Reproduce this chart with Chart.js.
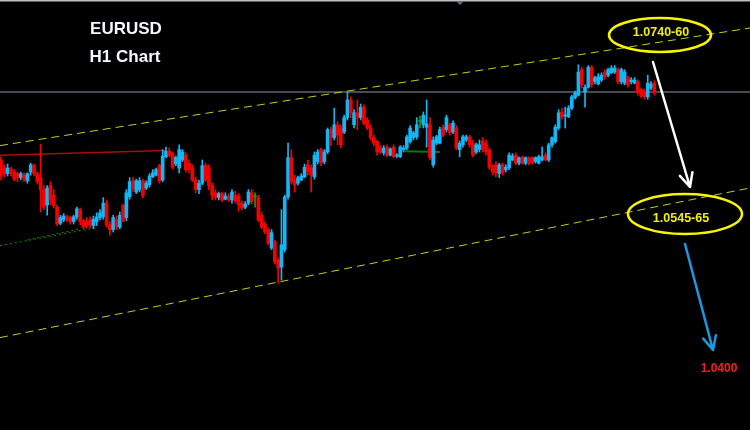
<!DOCTYPE html>
<html>
<head>
<meta charset="utf-8">
<script src="https://cdn.jsdelivr.net/npm/chart.js@4.4.0/dist/chart.umd.min.js"></script>
<style>
  html, body { margin: 0; padding: 0; background: #000; overflow: hidden; }
  canvas { display: block; }
</style>
</head>
<body>
<canvas id="chart" width="750" height="430"></canvas>
<script>
// EURUSD H1 candles
const openP = [
  1.0600,1.0590,1.0583,1.0589,1.0585,1.0583,1.0578,1.0581,1.0574,1.0585,
  1.0593,1.0583,1.0578,1.0563,1.0544,1.0568,1.0556,1.0541,1.0521,1.0525,
  1.0529,1.0528,1.0523,1.0529,1.0538,1.0524,1.0523,1.0525,1.0518,1.0523,
  1.0528,1.0529,1.0546,1.0519,1.0513,1.0526,1.0516,1.0543,1.0528,1.0554,
  1.0574,1.0560,1.0563,1.0574,1.0565,1.0569,1.0579,1.0581,1.0593,1.0575,
  1.0604,1.0611,1.0608,1.0595,1.0590,1.0600,1.0606,1.0596,1.0590,1.0575,
  1.0563,1.0571,1.0593,1.0590,1.0568,1.0559,1.0553,1.0558,1.0551,1.0555,
  1.0550,1.0556,1.0555,1.0546,1.0541,1.0546,1.0559,1.0554,1.0553,1.0531,
  1.0520,1.0513,1.0490,1.0498,1.0475,1.0466,1.0488,1.0554,1.0603,1.0575,
  1.0571,1.0575,1.0579,1.0594,1.0590,1.0579,1.0598,1.0613,1.0598,1.0610,
  1.0638,1.0628,1.0644,1.0640,1.0635,1.0653,1.0675,1.0644,1.0659,1.0653,
  1.0666,1.0650,1.0640,1.0628,1.0623,1.0615,1.0609,1.0616,1.0606,1.0616,
  1.0605,1.0604,1.0613,1.0615,1.0623,1.0628,1.0629,1.0648,1.0644,1.0641,
  1.0644,1.0594,1.0621,1.0621,1.0641,1.0638,1.0644,1.0635,1.0640,1.0613,
  1.0619,1.0625,1.0629,1.0621,1.0610,1.0613,1.0624,1.0621,1.0613,1.0591,
  1.0594,1.0583,1.0594,1.0588,1.0590,1.0600,1.0606,1.0596,1.0603,1.0596,
  1.0603,1.0603,1.0598,1.0596,1.0600,1.0606,1.0600,1.0619,1.0623,1.0640,
  1.0660,1.0655,1.0654,1.0665,1.0678,1.0681,1.0713,1.0685,1.0691,1.0716,
  1.0698,1.0695,1.0700,1.0710,1.0706,1.0709,1.0710,1.0713,1.0698,1.0696,
  1.0703,1.0698,1.0696,1.0698,1.0688,1.0685,1.0679,1.0690,1.0696
];
const highP = [
  1.0604,1.0594,1.0595,1.0591,1.0588,1.0585,1.0585,1.0584,1.0584,1.0596,
  1.0595,1.0585,1.0620,1.0568,1.0568,1.0573,1.0563,1.0544,1.0531,1.0533,
  1.0531,1.0530,1.0531,1.0541,1.0540,1.0526,1.0528,1.0529,1.0530,1.0534,
  1.0538,1.0553,1.0550,1.0523,1.0531,1.0530,1.0535,1.0545,1.0563,1.0578,
  1.0578,1.0576,1.0578,1.0576,1.0574,1.0583,1.0588,1.0590,1.0595,1.0613,
  1.0616,1.0615,1.0610,1.0605,1.0619,1.0613,1.0609,1.0600,1.0594,1.0579,
  1.0575,1.0600,1.0596,1.0594,1.0571,1.0563,1.0560,1.0560,1.0559,1.0558,
  1.0563,1.0561,1.0558,1.0549,1.0548,1.0563,1.0563,1.0559,1.0556,1.0535,
  1.0523,1.0515,1.0513,1.0500,1.0478,1.0538,1.0556,1.0621,1.0613,1.0581,
  1.0580,1.0583,1.0595,1.0600,1.0594,1.0610,1.0613,1.0615,1.0613,1.0640,
  1.0641,1.0665,1.0648,1.0644,1.0656,1.0685,1.0679,1.0663,1.0675,1.0670,
  1.0669,1.0653,1.0644,1.0631,1.0625,1.0618,1.0618,1.0619,1.0615,1.0619,
  1.0608,1.0618,1.0618,1.0631,1.0643,1.0636,1.0653,1.0655,1.0660,1.0675,
  1.0653,1.0629,1.0631,1.0641,1.0644,1.0656,1.0646,1.0649,1.0643,1.0624,
  1.0631,1.0631,1.0631,1.0625,1.0621,1.0625,1.0628,1.0625,1.0615,1.0594,
  1.0598,1.0596,1.0596,1.0594,1.0609,1.0608,1.0609,1.0604,1.0605,1.0604,
  1.0604,1.0604,1.0604,1.0606,1.0616,1.0609,1.0621,1.0629,1.0644,1.0663,
  1.0665,1.0666,1.0668,1.0681,1.0686,1.0719,1.0716,1.0694,1.0718,1.0718,
  1.0705,1.0708,1.0709,1.0713,1.0715,1.0718,1.0718,1.0715,1.0715,1.0713,
  1.0705,1.0703,1.0703,1.0700,1.0690,1.0689,1.0706,1.0698,1.0699
];
const lowP = [
  1.0575,1.0579,1.0580,1.0580,1.0574,1.0573,1.0575,1.0573,1.0571,1.0581,
  1.0580,1.0570,1.0535,1.0538,1.0531,1.0544,1.0540,1.0518,1.0519,1.0523,
  1.0523,1.0520,1.0520,1.0526,1.0519,1.0514,1.0515,1.0515,1.0514,1.0518,
  1.0525,1.0526,1.0516,1.0506,1.0510,1.0513,1.0514,1.0523,1.0524,1.0551,
  1.0560,1.0558,1.0560,1.0553,1.0563,1.0566,1.0578,1.0580,1.0571,1.0573,
  1.0603,1.0604,1.0589,1.0593,1.0584,1.0598,1.0585,1.0584,1.0573,1.0559,
  1.0558,1.0569,1.0573,1.0563,1.0550,1.0550,1.0550,1.0548,1.0550,1.0548,
  1.0546,1.0546,1.0536,1.0538,1.0539,1.0544,1.0545,1.0541,1.0523,1.0514,
  1.0508,1.0494,1.0488,1.0470,1.0446,1.0450,1.0485,1.0551,1.0570,1.0560,
  1.0569,1.0574,1.0578,1.0581,1.0560,1.0576,1.0595,1.0593,1.0595,1.0608,
  1.0618,1.0625,1.0619,1.0615,1.0633,1.0650,1.0653,1.0640,1.0638,1.0650,
  1.0644,1.0638,1.0625,1.0618,1.0606,1.0608,1.0606,1.0604,1.0605,1.0603,
  1.0603,1.0603,1.0610,1.0613,1.0621,1.0625,1.0626,1.0640,1.0640,1.0616,
  1.0600,1.0591,1.0619,1.0620,1.0629,1.0635,1.0631,1.0633,1.0613,1.0604,
  1.0616,1.0623,1.0616,1.0604,1.0608,1.0610,1.0610,1.0606,1.0588,1.0581,
  1.0579,1.0578,1.0581,1.0585,1.0588,1.0599,1.0594,1.0594,1.0595,1.0594,
  1.0594,1.0595,1.0596,1.0595,1.0599,1.0599,1.0598,1.0616,1.0621,1.0638,
  1.0651,1.0640,1.0653,1.0663,1.0676,1.0680,1.0690,1.0666,1.0690,1.0691,
  1.0695,1.0694,1.0698,1.0701,1.0704,1.0708,1.0708,1.0695,1.0695,1.0694,
  1.0691,1.0695,1.0695,1.0681,1.0678,1.0676,1.0676,1.0688,1.0681
];
const closeP = [
  1.0580,1.0583,1.0590,1.0583,1.0576,1.0578,1.0583,1.0576,1.0583,1.0594,
  1.0583,1.0573,1.0563,1.0541,1.0565,1.0550,1.0543,1.0520,1.0528,1.0530,
  1.0525,1.0523,1.0529,1.0539,1.0523,1.0516,1.0518,1.0519,1.0526,1.0529,
  1.0534,1.0546,1.0519,1.0513,1.0528,1.0516,1.0531,1.0524,1.0559,1.0573,
  1.0564,1.0574,1.0574,1.0555,1.0571,1.0580,1.0584,1.0588,1.0574,1.0605,
  1.0611,1.0606,1.0591,1.0603,1.0613,1.0610,1.0588,1.0588,1.0575,1.0563,
  1.0571,1.0593,1.0575,1.0568,1.0556,1.0553,1.0558,1.0550,1.0555,1.0550,
  1.0560,1.0549,1.0544,1.0540,1.0545,1.0560,1.0548,1.0554,1.0525,1.0516,
  1.0510,1.0496,1.0509,1.0473,1.0465,1.0494,1.0554,1.0603,1.0573,1.0569,
  1.0578,1.0580,1.0591,1.0585,1.0581,1.0606,1.0610,1.0596,1.0610,1.0638,
  1.0628,1.0644,1.0631,1.0619,1.0653,1.0675,1.0659,1.0659,1.0653,1.0666,
  1.0646,1.0640,1.0628,1.0621,1.0610,1.0610,1.0615,1.0606,1.0614,1.0604,
  1.0606,1.0616,1.0615,1.0629,1.0640,1.0634,1.0644,1.0648,1.0656,1.0645,
  1.0603,1.0625,1.0629,1.0638,1.0631,1.0653,1.0634,1.0646,1.0615,1.0621,
  1.0629,1.0629,1.0619,1.0606,1.0619,1.0619,1.0613,1.0610,1.0591,1.0585,
  1.0584,1.0594,1.0584,1.0591,1.0606,1.0605,1.0596,1.0603,1.0596,1.0603,
  1.0596,1.0596,1.0603,1.0604,1.0604,1.0600,1.0619,1.0628,1.0641,1.0659,
  1.0654,1.0656,1.0665,1.0679,1.0684,1.0710,1.0694,1.0691,1.0716,1.0694,
  1.0703,1.0704,1.0706,1.0704,1.0713,1.0715,1.0715,1.0698,1.0713,1.0710,
  1.0694,1.0700,1.0700,1.0684,1.0680,1.0679,1.0696,1.0695,1.0684
];

// drawn levels: [bar index, price] at both ends
const upperChannel = [[-0.3, 1.0618], [227, 1.0765]];
const lowerChannel = [[-0.3, 1.0378], [227, 1.0565]];
const pivotLine = [[-0.3, 1.0685], [227, 1.0685]];
const redLine = [[-0.3, 1.0606], [50, 1.0612]];
const greenLevel = [[122.4, 1.0611], [133, 1.0610]];
const greenDotsA = [[-0.3, 1.0493], [28.5, 1.0515]];
const greenDotsB = [[8, 1.0500], [24, 1.0514]];

const titleText = ["EURUSD", "H1 Chart"];
const upperZone = "1.0740-60";
const lowerZone = "1.0545-65";
const targetText = "1.0400";

const xMin = -0.3, xMax = 227;
const yMin = 1.02625, yMax = 1.0800;

const bull = '#14b6f5', bear = '#f50000', flat = '#12a012';

let idx = openP.map((v, i) => i);
let colors = idx.map(i => closeP[i] > openP[i] ? bull : (closeP[i] < openP[i] ? bear : flat));

function lineSet(points, color, dash, width, order) {
  return {
    type: 'line',
    data: points.map(p => ({ x: p[0], y: p[1] })),
    borderColor: color,
    borderWidth: width,
    borderDash: dash,
    pointRadius: 0,
    fill: false,
    order: order
  };
}

function arrow(ctx, x1, y1, x2, y2, color, head) {
  let a = Math.atan2(y2 - y1, x2 - x1);
  ctx.strokeStyle = color;
  ctx.lineWidth = 2.5;
  ctx.lineCap = 'round';
  ctx.beginPath();
  ctx.moveTo(x1, y1);
  ctx.lineTo(x2, y2);
  ctx.moveTo(x2, y2);
  ctx.lineTo(x2 - head * Math.cos(a - 0.45), y2 - head * Math.sin(a - 0.45));
  ctx.moveTo(x2, y2);
  ctx.lineTo(x2 - head * Math.cos(a + 0.45), y2 - head * Math.sin(a + 0.45));
  ctx.stroke();
}

const overlay = {
  id: 'overlay',
  beforeDraw: function (chart) {
    let ctx = chart.ctx;
    ctx.save();
    ctx.fillStyle = '#000';
    ctx.fillRect(0, 0, chart.width, chart.height);
    ctx.restore();
  },
  afterDraw: function (chart) {
    let ctx = chart.ctx;
    ctx.save();

    // frame line + shift marker at top
    ctx.fillStyle = '#bfbfbf';
    ctx.fillRect(0, 0, chart.width, 1.5);
    ctx.fillStyle = '#5f6f80';
    ctx.beginPath();
    ctx.moveTo(456, 1);
    ctx.lineTo(464, 1);
    ctx.lineTo(460, 5);
    ctx.fill();

    // title
    ctx.fillStyle = '#f4f7ff';
    ctx.font = 'bold 17px "Liberation Sans", Arial, sans-serif';
    ctx.textAlign = 'center';
    ctx.textBaseline = 'alphabetic';
    ctx.fillText(titleText[0], 126, 34);
    ctx.fillText(titleText[1], 125, 62);

    // zones
    ctx.strokeStyle = '#f5f500';
    ctx.lineWidth = 2.5;
    ctx.beginPath();
    ctx.ellipse(660, 35, 51, 17, 0, 0, Math.PI * 2);
    ctx.stroke();
    ctx.beginPath();
    ctx.ellipse(685, 214, 57, 20, 0, 0, Math.PI * 2);
    ctx.stroke();

    ctx.fillStyle = '#f0f000';
    ctx.font = 'bold 12.5px "Liberation Sans", Arial, sans-serif';
    ctx.textBaseline = 'middle';
    ctx.fillText(upperZone, 661, 33);
    ctx.fillText(lowerZone, 681, 219);

    // arrows
    arrow(ctx, 653, 62, 690, 187, '#ffffff', 15);
    arrow(ctx, 685, 244, 713, 350, '#1e98dc', 15);

    ctx.fillStyle = '#ff1a1a';
    ctx.font = 'bold 12px "Liberation Sans", Arial, sans-serif';
    ctx.fillText(targetText, 719, 369);

    ctx.restore();
  }
};

let chartData = {
  datasets: [
    {
      type: 'bar',
      data: idx.map(i => ({ x: i, y: [openP[i], closeP[i]] })),
      backgroundColor: colors,
      barThickness: 3,
      minBarLength: 1,
      grouped: false,
      order: 1
    },
    {
      type: 'bar',
      data: idx.map(i => ({ x: i, y: [lowP[i], highP[i]] })),
      backgroundColor: colors,
      barThickness: 1,
      grouped: false,
      order: 2
    },
    lineSet(pivotLine, '#8b96a5', [], 1, 5),
    lineSet(upperChannel, '#c9c92a', [8, 5], 1, 4),
    lineSet(lowerChannel, '#c9c92a', [8, 5], 1, 4),
    lineSet(redLine, '#a80c0c', [], 1.5, 4),
    lineSet(greenLevel, '#0b7a0b', [], 2, 4),
    lineSet(greenDotsA, '#148a14', [2, 3], 1, 4),
    lineSet(greenDotsB, '#148a14', [2, 3], 1, 4)
  ]
};

let chartOptions = {
  responsive: false,
  devicePixelRatio: 1,
  animation: false,
  layout: { padding: 0 },
  plugins: {
    legend: { display: false },
    tooltip: { enabled: false }
  },
  scales: {
    x: { type: 'linear', min: xMin, max: xMax, offset: false, display: false },
    y: { type: 'linear', min: yMin, max: yMax, beginAtZero: false, display: false }
  }
};

let ctx = document.getElementById('chart').getContext('2d');
let candleChart = new Chart(ctx, {
  type: 'bar',
  data: chartData,
  options: chartOptions,
  plugins: [overlay]
});
</script>
</body>
</html>
